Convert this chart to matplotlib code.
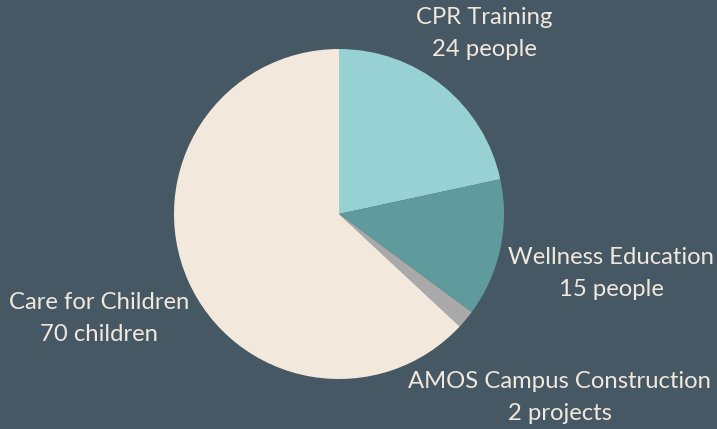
import matplotlib.pyplot as plt

# Data
labels = ["CPR Training", "Wellness Education", "AMOS Campus Construction", "Care for Children"]
values = [24, 15, 2, 70]
units = ["people", "people", "projects", "children"]
colors = ["#97d1d3", "#5f9b9c", "#a9a9a9", "#f2e9dc"]

bg = "#465864"
text_color = "#f0e8dc"

fig = plt.figure(figsize=(7.17, 4.29), dpi=100)
fig.patch.set_facecolor(bg)
ax = fig.add_axes([0, 0, 1, 1])
ax.set_facecolor(bg)

ax.pie(values, colors=colors, startangle=90, counterclock=False,
       radius=1.0, center=(0, 0), wedgeprops=dict(linewidth=0))

# map pixels -> data: centre (339, 214), radius 165 px
cx, cy, r = 339, 214, 165
ax.set_xlim(-cx / r, (717 - cx) / r)
ax.set_ylim(-(429 - cy) / r, cy / r)
ax.set_aspect("auto")
ax.axis("off")

# label positions (pixel coords of the first line centre)
label_px = [(484, 17), (611, 257), (560, 381), (99, 302)]
for lab, v, u, (px, py) in zip(labels, values, units, label_px):
    x = (px - cx) / r
    y = (cy - py + 10) / r
    ax.text(x, y, f"{lab}\n{v} {u}", ha="center", va="top",
            fontsize=17.2, color=text_color, family="Lato",
            linespacing=1.62)

fig.savefig("out.png", dpi=100, facecolor=bg)
